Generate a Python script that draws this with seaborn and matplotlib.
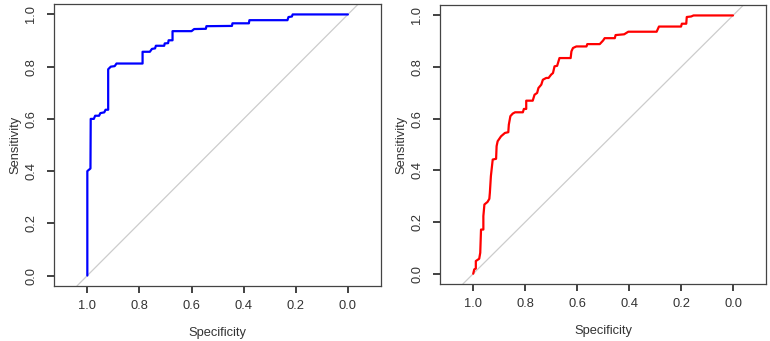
import numpy as np
import pandas as pd
import matplotlib
matplotlib.use("Agg")
import matplotlib.pyplot as plt
import seaborn as sns

# ROC curve vertices (specificity, sensitivity)
left_spec = [1.000, 1.000, 0.988, 0.987, 0.975, 0.970, 0.955, 0.950, 0.935, 0.930,
             0.920, 0.920, 0.910, 0.895, 0.888, 0.788, 0.788, 0.760, 0.752, 0.740,
             0.737, 0.705, 0.703, 0.690, 0.688, 0.673, 0.673, 0.600, 0.590, 0.545,
             0.543, 0.445, 0.443, 0.380, 0.378, 0.232, 0.228, 0.215, 0.212, 0.000]
left_sens = [0.000, 0.400, 0.410, 0.600, 0.600, 0.612, 0.612, 0.622, 0.625, 0.635,
             0.635, 0.790, 0.800, 0.802, 0.812, 0.812, 0.857, 0.857, 0.868, 0.870,
             0.880, 0.880, 0.889, 0.890, 0.901, 0.901, 0.936, 0.936, 0.944, 0.945,
             0.955, 0.956, 0.966, 0.966, 0.978, 0.978, 0.990, 0.992, 1.000, 1.000]

right_spec = [1.000, 0.996, 0.990, 0.990, 0.977, 0.973, 0.970, 0.961, 0.961, 0.957,
              0.945, 0.938, 0.936, 0.932, 0.925, 0.912, 0.910, 0.906, 0.893, 0.878,
              0.865, 0.863, 0.857, 0.848, 0.839, 0.809, 0.805, 0.796, 0.796, 0.771,
              0.764, 0.754, 0.749, 0.738, 0.732, 0.719, 0.710, 0.700, 0.693, 0.687,
              0.677, 0.668, 0.625, 0.622, 0.616, 0.603, 0.564, 0.561, 0.513, 0.500,
              0.494, 0.455, 0.452, 0.419, 0.403, 0.294, 0.285, 0.200, 0.197, 0.180,
              0.178, 0.161, 0.152, 0.000]
right_sens = [0.000, 0.017, 0.020, 0.049, 0.058, 0.081, 0.171, 0.171, 0.223, 0.268,
              0.278, 0.290, 0.313, 0.378, 0.442, 0.445, 0.494, 0.513, 0.532, 0.545,
              0.548, 0.577, 0.610, 0.620, 0.625, 0.625, 0.638, 0.638, 0.670, 0.670,
              0.693, 0.700, 0.719, 0.732, 0.751, 0.758, 0.758, 0.771, 0.777, 0.803,
              0.805, 0.835, 0.835, 0.861, 0.874, 0.880, 0.880, 0.889, 0.889, 0.903,
              0.912, 0.912, 0.924, 0.927, 0.937, 0.937, 0.957, 0.957, 0.968, 0.968,
              0.994, 0.996, 1.000, 1.000]

ticks = [1.0, 0.8, 0.6, 0.4, 0.2, 0.0]
tick_labels = ["1.0", "0.8", "0.6", "0.4", "0.2", "0.0"]

sns.set_style("ticks")
plt.rcParams['font.family'] = ['Liberation Sans', 'DejaVu Sans']
plt.rcParams['font.size'] = 9.3

box_color = "#444444"
text_color = "#333333"

fig = plt.figure(figsize=(7.7, 3.41), dpi=100)
ax1 = fig.add_axes([0.0701, 0.1613, 0.4247, 0.827])
ax2 = fig.add_axes([0.5714, 0.1670, 0.4234, 0.818])

panels = [(ax1, left_spec, left_sens, "blue"), (ax2, right_spec, right_sens, "red")]

for ax, spec, sens, color in panels:
    df = pd.DataFrame({"Specificity": spec, "Sensitivity": sens})
    ax.axline((1, 0), (0, 1), color="#cccccc", linewidth=0.9, zorder=1)
    sns.lineplot(data=df, x="Specificity", y="Sensitivity", sort=False,
                 estimator=None, color=color, linewidth=1.6, ax=ax, zorder=2)
    ax.set_xlim(1.128, -0.127)
    ax.set_ylim(-0.04, 1.04)
    ax.set_xticks(ticks, tick_labels)
    ax.set_yticks(ticks, tick_labels, rotation=90, va="center")
    ax.tick_params(axis="both", which="major", bottom=True, left=True,
                   direction="out", length=5, width=1.3, color="#333333",
                   labelcolor=text_color, labelsize=9.3)
    ax.tick_params(axis="x", pad=5)
    ax.tick_params(axis="y", pad=7)
    ax.set_xlabel("Specificity", color=text_color, fontsize=9.3, labelpad=11)
    ax.set_ylabel("Sensitivity", color=text_color, fontsize=9.3, labelpad=3)
    for s in ax.spines.values():
        s.set_visible(True)
        s.set_color(box_color)
        s.set_linewidth(0.9)

fig.savefig("out.png", dpi=100)
